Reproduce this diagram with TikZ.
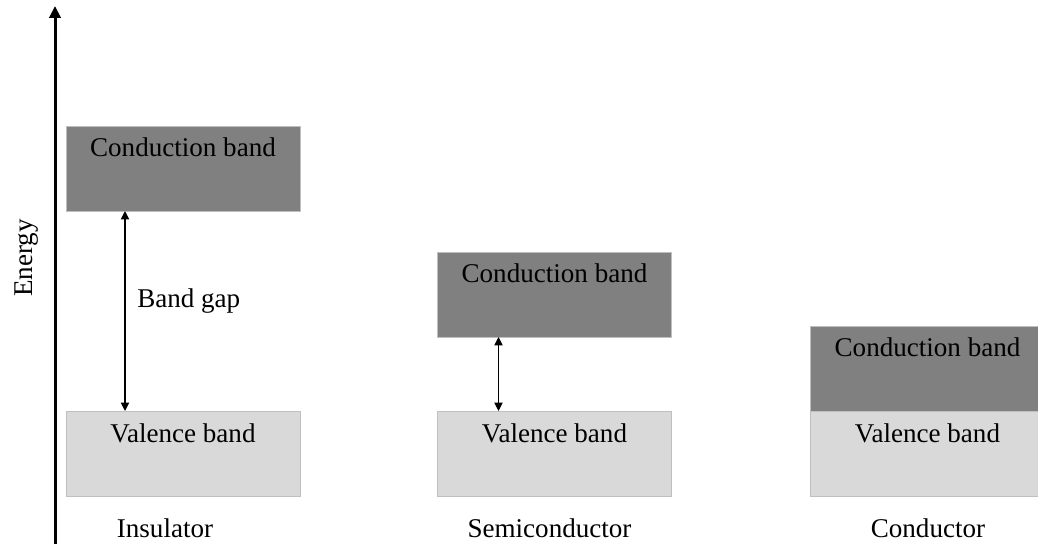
\documentclass[tikz,border=0pt]{standalone}
\usepackage{fontspec}
\setmainfont{Liberation Serif}
\usetikzlibrary{arrows.meta}
\usetikzlibrary{positioning}

\definecolor{cbgray}{HTML}{808080}
\definecolor{vbgray}{HTML}{D9D9D9}
\definecolor{edgegray}{HTML}{BFBFBF}

\tikzset{
	band/.style={draw=edgegray,line width=0.6pt,minimum width=175.5pt,minimum height=63.75pt,inner sep=0pt,outer sep=0pt},
	cband/.style={band,fill=cbgray},
	vband/.style={band,fill=vbgray},
	bandtext/.style={anchor=base,inner sep=0pt,font=\fontsize{20.3}{24}\selectfont},
	gaparrow/.style={line width=0.9pt,{Triangle[length=6.3pt,width=6.2pt]}-{Triangle[length=6.3pt,width=6.2pt]}}
}

\begin{document}
\begin{tikzpicture}[x=0.75pt,y=0.75pt]
		\useasboundingbox (0,0) rectangle (1038,544);
		
		% energy axis
		\coordinate (axisbot) at (55,0);
		\coordinate (axistop) at (55,538);
		\draw [line width=2.25pt,-{Triangle[length=9pt,width=8.5pt]}] (axisbot) to (axistop);
		\node [bandtext,rotate=90] (energy) at (32,286) {Energy};
		
		% insulator
		\node [cband] (icb) at (183,375.5) {};
		\node [vband] (ivb) at (183,90.5) {};
		\node [bandtext] (icbtext) at ([yshift=-22.5pt]icb.north) {Conduction band};
		\node [bandtext] (ivbtext) at ([yshift=-23.25pt]ivb.north) {Valence band};
		\draw [gaparrow] ([xshift=44.25pt]icb.south west) to ([xshift=44.25pt]ivb.north west);
		\node [bandtext,anchor=base west] (gaptext) at (137,237) {Band gap};
		\node [bandtext] (ilabel) at (165,7) {Insulator};
		
		% semiconductor
		\node [cband] (scb) at (554.5,249.5) {};
		\node [vband] (svb) at (554.5,90.5) {};
		\node [bandtext] (scbtext) at ([yshift=-22.5pt]scb.north) {Conduction band};
		\node [bandtext] (svbtext) at ([yshift=-23.25pt]svb.north) {Valence band};
		\draw [gaparrow] ([xshift=45.75pt]scb.south west) to ([xshift=45.75pt]svb.north west);
		\node [bandtext] (slabel) at (549.5,7) {Semiconductor};
		
		% conductor
		\node [cband] (ccb) at (927.5,175.5) {};
		\node [vband] (cvb) at (927.5,90.5) {};
		\node [bandtext] (ccbtext) at ([yshift=-22.5pt]ccb.north) {Conduction band};
		\node [bandtext] (cvbtext) at ([yshift=-23.25pt]cvb.north) {Valence band};
		\node [bandtext] (clabel) at (928,7) {Conductor};
		
	\end{tikzpicture}
\end{document}
